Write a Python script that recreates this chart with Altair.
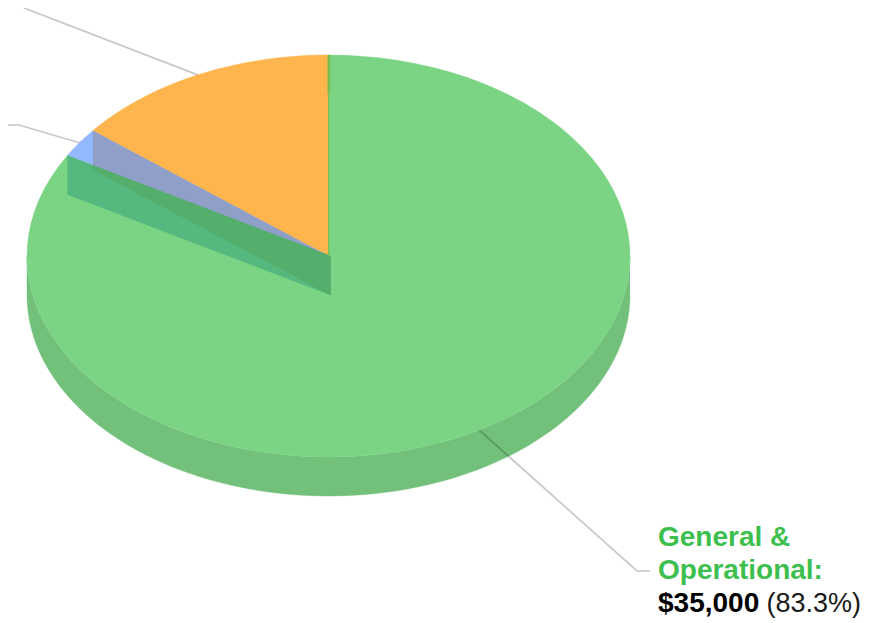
import numpy as np
import pandas as pd
import altair as alt

# ---- values
slice_names = ["General & Operational", "Program B", "Program A"]
slice_values = [35000, 1000, 6000]
slice_colors = ["#7AD483", "#92B8FF", "#FFB54D"]
side_color = "#72C07A"
teal_color = "#55B87E"
band_color = "#54AE6C"
slate_color = "#8F9FC8"
sliver_color = "#7DBB52"

# ---- picture geometry of the tilted disc (page pixels)
CX, CY, RX, RY, DEPTH = 328.5, 256.0, 301.5, 201.0, 39.0
W, H = 854, 612
d = DEPTH / RY
nudge = 2.0 / RX

total = sum(slice_values)
edges = np.cumsum([0] + slice_values) / total * 2 * np.pi


def rim(t):
    return float(np.sin(t)), float(np.cos(t))


def sweep(t0, t1, n=90, dv=0.0):
    ts = np.linspace(t0, t1, n)
    return [(float(np.sin(t)), float(np.cos(t)) - dv) for t in ts]


def poly(points, color):
    df = pd.DataFrame(points, columns=["u", "v"])
    df["i"] = range(len(df))
    return (
        alt.Chart(df)
        .mark_line(fill=color, stroke=color, strokeWidth=0.4, interpolate="linear")
        .encode(
            x=alt.X("u:Q", scale=xs, axis=None),
            y=alt.Y("v:Q", scale=ys, axis=None),
            order="i:Q",
        )
    )


def leader(points):
    df = pd.DataFrame(points, columns=["u", "v"])
    df["i"] = range(len(df))
    return (
        alt.Chart(df)
        .mark_line(color="#000000", opacity=0.22, strokeWidth=1.7)
        .encode(
            x=alt.X("u:Q", scale=xs, axis=None),
            y=alt.Y("v:Q", scale=ys, axis=None),
            order="i:Q",
        )
    )


def px(x, y):
    return ((x - CX) / RX, (CY - y) / RY)


xs = alt.Scale(domain=[(8 - CX) / RX, (8 + W - CX) / RX], nice=False, zero=False)
ys = alt.Scale(domain=[(CY - 8 - H) / RY, (CY - 8) / RY], nice=False, zero=False)

A = rim(edges[1])
B = rim(edges[2])
tip = (0.0, 0.0)
tipR = (nudge, 0.0)
# where the blue/orange edge's vertical drop meets the green edge
I = (B[0], A[1] * B[0] / A[0])


def down(p):
    return (p[0], p[1] - d)


layers = [
    poly(sweep(np.pi / 2, 3 * np.pi / 2) + sweep(3 * np.pi / 2, np.pi / 2, dv=d), side_color),
    poly([tip] + sweep(edges[0], edges[1]), slice_colors[0]),
    poly([tip] + sweep(edges[1], edges[2], n=20), slice_colors[1]),
    poly([tip] + sweep(edges[2], edges[3], n=60), slice_colors[2]),
    poly([A, tipR, down(tipR), down(A)], teal_color),
    poly([B, tip, I], slate_color),
    poly([I, tipR, down(tipR), down(B)], band_color),
    poly([(-1.0 / RX, 1.0), (1.5 / RX, 1.0), (1.5 / RX, 1.0 - d), (-1.0 / RX, 1.0 - d)], sliver_color),
    poly([(-0.5 / RX, 1.0 - d), (0.5 / RX, 1.0 - d), (0.5 / RX, 0.0), (-0.5 / RX, 0.0)], sliver_color),
]

mids = (edges[:-1] + edges[1:]) / 2
layers += [
    leader([rim(mids[0]), px(637, 571), px(650, 571)]),
    leader([rim(mids[1]), px(19, 125), px(8, 125)]),
    leader([rim(mids[2]), px(24, 8)]),
]

label_lines = [
    ("General &", 650, 538, "bold", "#3DBF4F", 28),
    ("Operational:", 650, 571, "bold", "#3DBF4F", 28),
    ("$35,000", 650, 604, "bold", "#000000", 28),
    ("(83.3%)", 758.5, 604, "normal", "#1A1A1A", 27),
]
for txt, x, y, weight, col, size in label_lines:
    layers.append(
        alt.Chart(pd.DataFrame({"t": [txt]}))
        .mark_text(
            align="left",
            baseline="alphabetic",
            font="Liberation Sans",
            fontSize=size,
            fontWeight=weight,
            color=col,
        )
        .encode(text="t:N", x=alt.value(x), y=alt.value(y))
    )

chart = (
    alt.layer(*layers)
    .resolve_scale(x="shared", y="shared")
    .properties(width=W, height=H, padding=0, autosize=alt.AutoSizeParams(type="none"))
    .configure_view(stroke=None)
)

chart.save("out.html", embed_options={"renderer": "svg", "actions": False})
